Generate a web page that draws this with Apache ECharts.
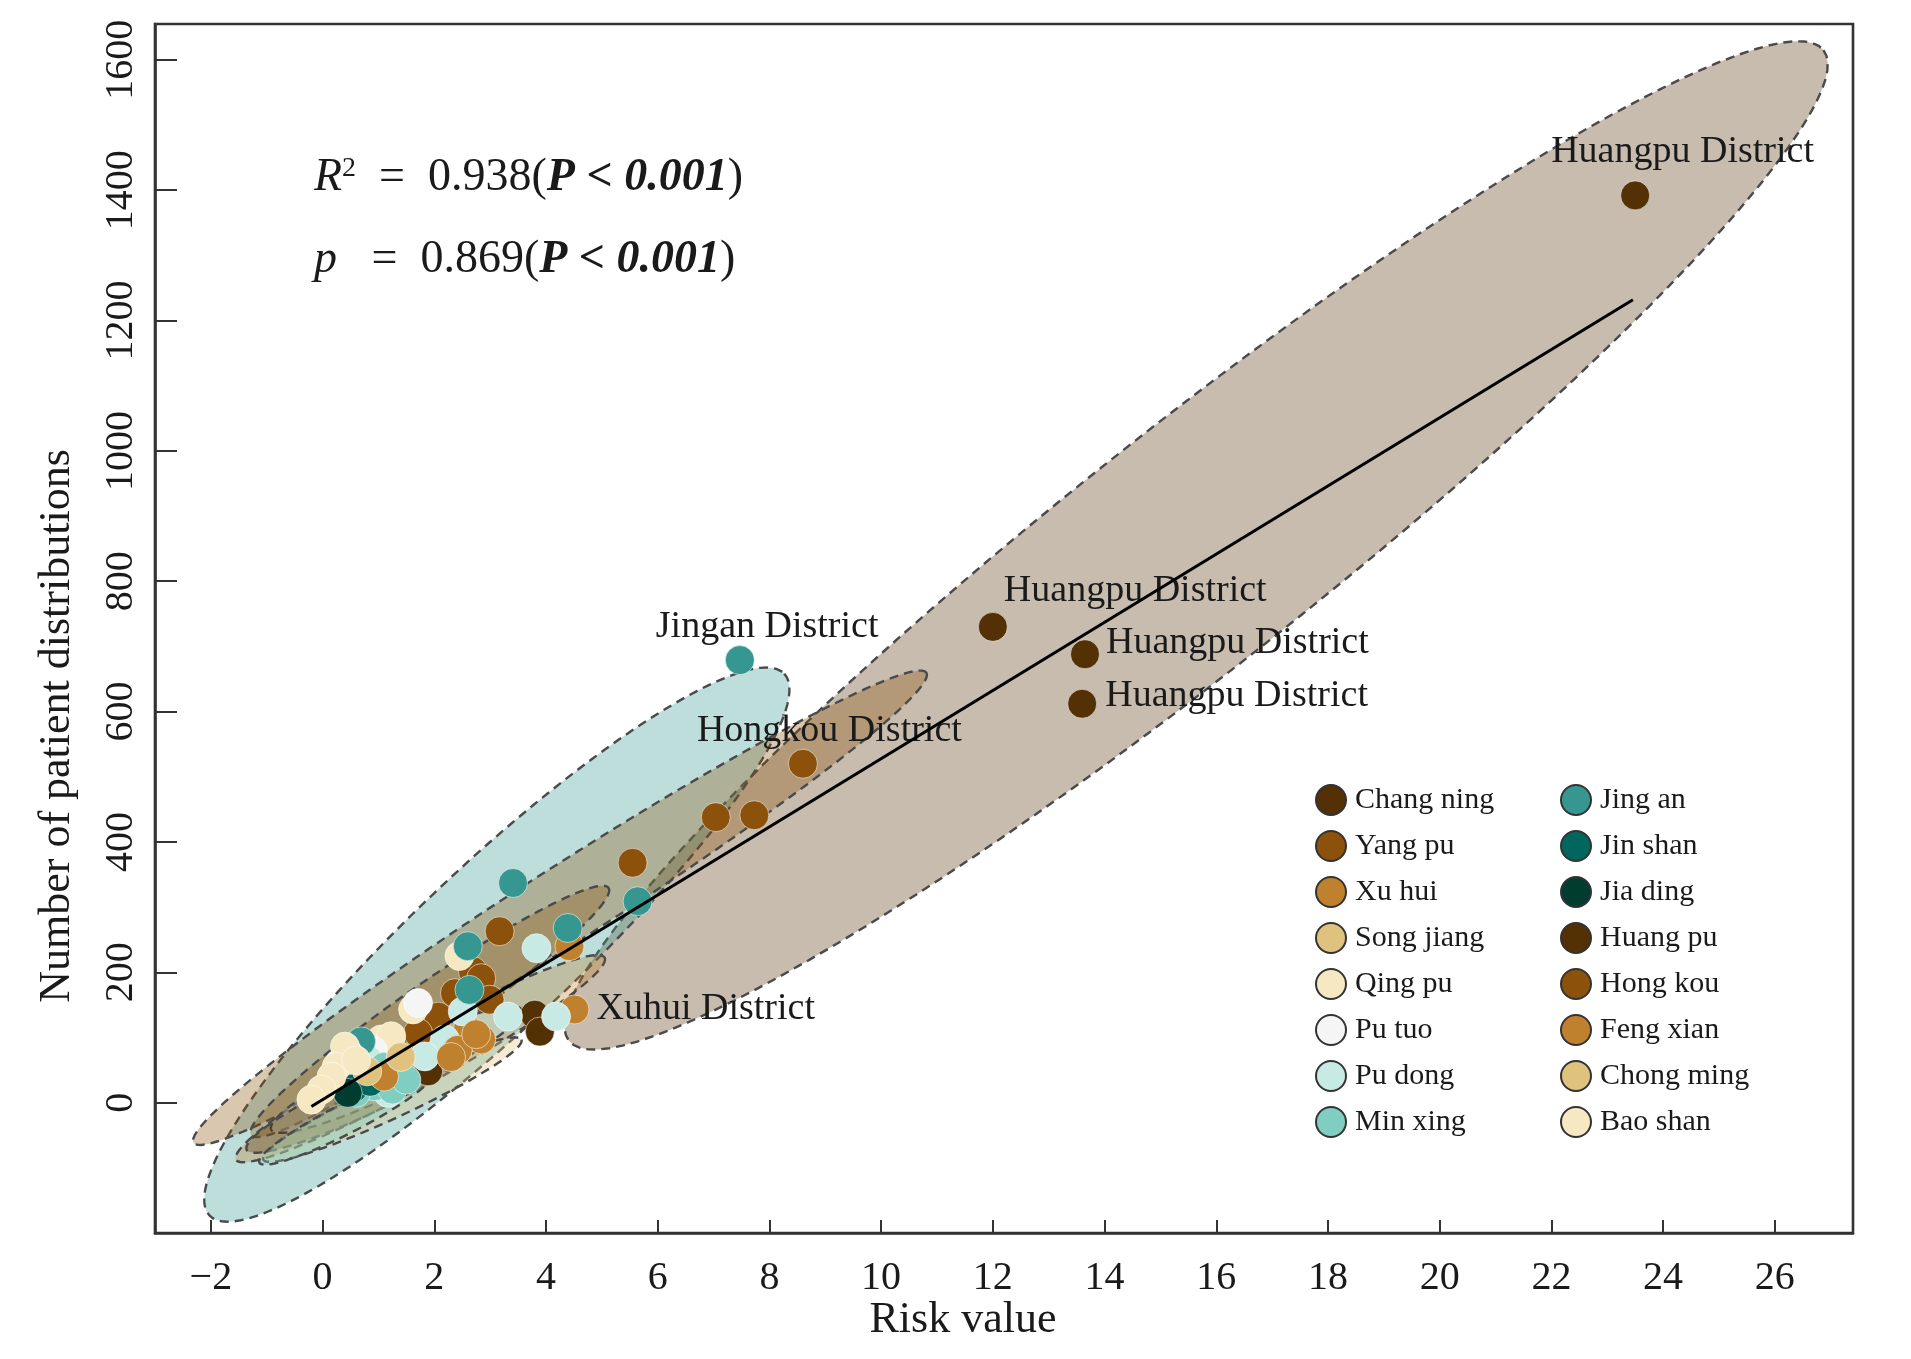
<!DOCTYPE html>
<html>
<head>
<meta charset="utf-8">
<script src="https://cdn.jsdelivr.net/npm/echarts@6/dist/echarts.min.js"></script>
<style>
  html, body { margin: 0; padding: 0; background: #fff; }
  #chart { width: 1911px; height: 1359px; }
</style>
</head>
<body>
<div id="chart"></div>
<script>
// districts, legend order (two columns of eight)
const districts = [
  'Chang ning', 'Yang pu', 'Xu hui', 'Song jiang', 'Qing pu', 'Pu tuo', 'Pu dong', 'Min xing',
  'Jing an', 'Jin shan', 'Jia ding', 'Huang pu', 'Hong kou', 'Feng xian', 'Chong ming', 'Bao shan',
];
const districtColors = [
  '#543005', '#8c510a', '#bf812d', '#dfc27d', '#f6e8c3', '#f5f5f5', '#c7eae5', '#80cdc1',
  '#35978f', '#01665e', '#003c30', '#543005', '#8c510a', '#bf812d', '#dfc27d', '#f6e8c3',
];

// [risk value, number of patient distributions] per district
const changNing = [[3.8, 135], [3.89, 109], [1.89, 48], [1.4, 30]];
const yangPu = [[3.17, 263], [2.69, 202], [2.84, 191], [2.37, 168], [2.99, 158], [2.07, 132], [1.71, 107], [0.63, 89]];
const xuHui = [[4.51, 143], [4.42, 240], [2.6, 112], [2.84, 97]];
const songJiang = [[1.05, 66], [0.5, 50]];
const qingPu = [[2.45, 225], [1.62, 143], [1.05, 97], [1.23, 102]];
const puTuo = [[1.71, 153], [0.3, 60], [0.9, 80]];
const puDong = [[3.83, 237], [2.51, 140], [3.32, 132], [4.18, 132], [2.19, 97], [1.83, 71], [0.63, 45], [1.17, 15], [0.81, 66], [1.3, 30], [1.0, 50]];
const minXing = [[0.34, 55], [0.93, 25], [1.35, 45], [0.7, 35], [1.1, 55], [0.6, 15], [1.25, 20], [1.5, 35]];
const jingAn = [[7.47, 679], [3.41, 337], [5.64, 309], [4.39, 268], [2.6, 240], [2.63, 173], [0.69, 94]];
const jinShan = [[0.55, 22], [0.85, 32]];
const jiaDing = [[0.45, 15]];
const huangPu = [[12.0, 730], [13.65, 688], [13.6, 612], [23.5, 1392]];
const hongKou = [[8.6, 520], [7.04, 438], [7.73, 441], [5.55, 368]];
const fengXian = [[2.42, 81], [2.75, 105], [2.3, 70], [1.1, 40]];
const chongMing = [[0.8, 48], [1.4, 70]];
const baoShan = [[0.46, 76], [0.4, 86], [0.25, 55], [0.6, 65], [0.16, 40], [-0.02, 20], [-0.2, 4.5]];

const districtPoints = [
  changNing, yangPu, xuHui, songJiang, qingPu, puTuo, puDong, minXing,
  jingAn, jinShan, jiaDing, huangPu, hongKou, fengXian, chongMing, baoShan,
];

// labelled points: [district index, point index, text]
const pointLabels = [
  [11, 3, 'Huangpu District'],
  [11, 0, 'Huangpu District'],
  [11, 1, 'Huangpu District'],
  [11, 2, 'Huangpu District'],
  [8, 0, 'Jingan District'],
  [12, 0, 'Hongkou District'],
  [2, 0, 'Xuhui District'],
];
const labelOffsets = [[-84, -43], [11, -36], [21, -11], [23, -8], [-84, -33], [-106, -33], [22, 0]];

// confidence ellipses: centre and two conjugate semi-axes, in data units
const ellipseDistrict = ['Huang pu', 'Jing an', 'Hong kou', 'Yang pu', 'Xu hui', 'Pu dong', 'Chang ning', 'Song jiang', 'Min xing'];
const ellipseCentre = [[15.64, 855], [3.12, 242.5], [4.25, 299], [1.92, 140], [1.75, 67.5], [1.32, 50.7], [0.65, 8.4], [1.25, 4.6], [0.41, -24.6]];
const ellipseMajor = [[11.23, 760], [5.145, 415.6], [6.56, 360.7], [3.2, 189.6], [3.3, 155], [2.24, 92.1], [2.01, 80.6], [2.31, 92.1], [1.54, 67.5]];
const ellipseMinor = [[1.33, -144.5], [0.99, -89.7], [0.37, -49.1], [0.28, -35.3], [0.22, -35], [0.17, -30.4], [0.15, -27.8], [0.14, -25], [0.12, -20.5]];

// regression line end points
const fitLine = [[-0.2, -6], [23.46, 1232]];

const xTicks = [-2, 0, 2, 4, 6, 8, 10, 12, 14, 16, 18, 20, 22, 24, 26];
const yTicks = [0, 200, 400, 600, 800, 1000, 1200, 1400, 1600];

const FONT = '"Liberation Serif", "Times New Roman", serif';
const INK = '#1a1a1a';
const FRAME = '#333';

const hexAlpha = (hex, a) => {
  const n = parseInt(hex.slice(1), 16);
  return `rgba(${(n >> 16) & 255},${(n >> 8) & 255},${n & 255},${a})`;
};

const chart = echarts.init(document.getElementById('chart'), null, { renderer: 'canvas' });

const ellipseSeries = {
  type: 'custom',
  silent: true,
  z: 1,
  data: ellipseCentre.map((c, i) => [c[0], c[1], ellipseMajor[i][0], ellipseMajor[i][1], ellipseMinor[i][0], ellipseMinor[i][1]]),
  renderItem: (params, api) => {
    const cx = api.value(0), cy = api.value(1);
    const ux = api.value(2), uy = api.value(3);
    const vx = api.value(4), vy = api.value(5);
    const pts = [];
    for (let k = 0; k < 120; k++) {
      const t = (k / 120) * Math.PI * 2;
      pts.push(api.coord([
        cx + ux * Math.cos(t) + vx * Math.sin(t),
        cy + uy * Math.cos(t) + vy * Math.sin(t),
      ]));
    }
    const color = districtColors[districts.indexOf(ellipseDistrict[params.dataIndex])];
    return {
      type: 'polygon',
      shape: { points: pts },
      style: {
        fill: hexAlpha(color, 0.32),
        stroke: '#4a4a4a',
        lineWidth: 2.4,
        lineDash: [9, 6],
      },
    };
  },
};

const scatterSeries = districts.map((name, d) => ({
  type: 'scatter',
  name,
  z: 3,
  symbolSize: 29,
  itemStyle: {
    color: districtColors[d],
    borderColor: 'rgba(255,255,255,0.55)',
    borderWidth: 1,
    opacity: 1,
  },
  emphasis: { disabled: true },
  data: districtPoints[d].map((p, i) => {
    const li = pointLabels.findIndex((l) => l[0] === d && l[1] === i);
    if (li < 0) return p;
    return {
      value: p,
      label: {
        show: true,
        position: 'inside',
        align: 'left',
        verticalAlign: 'middle',
        offset: labelOffsets[li],
        formatter: pointLabels[li][2],
        color: INK,
        fontFamily: FONT,
        fontSize: 38,
      },
    };
  }),
}));

const fitSeries = {
  type: 'line',
  z: 4,
  data: fitLine,
  symbol: 'none',
  silent: true,
  lineStyle: { color: '#000', width: 3 },
};

const legendBase = {
  orient: 'vertical',
  icon: 'circle',
  itemWidth: 30,
  itemHeight: 30,
  itemGap: 14,
  top: 779,
  textStyle: { fontFamily: FONT, fontSize: 30, color: INK, padding: [0, 0, 0, 4] },
  itemStyle: { borderColor: '#333', borderWidth: 2 },
  selectedMode: false,
};

chart.setOption({
  backgroundColor: '#fff',
  animation: false,
  grid: {
    left: 155,
    right: 58,
    top: 24,
    bottom: 126,
    show: true,
    borderColor: FRAME,
    borderWidth: 2.6,
  },
  legend: [
    { ...legendBase, left: 1310, data: districts.slice(0, 8) },
    { ...legendBase, left: 1555, data: districts.slice(8) },
  ],
  xAxis: {
    type: 'value',
    min: -3,
    max: 27.4,
    splitLine: { show: false },
    axisLine: { show: true, onZero: false, lineStyle: { color: FRAME, width: 2.6 } },
    axisTick: { show: true, inside: true, length: 13, customValues: xTicks, lineStyle: { color: FRAME, width: 2 } },
    axisLabel: {
      customValues: xTicks,
      margin: 25,
      color: INK,
      fontFamily: FONT,
      fontSize: 40,
      formatter: (v) => String(v).replace('-', '\u2212'),
    },
  },
  yAxis: {
    type: 'value',
    min: -200,
    max: 1655,
    splitLine: { show: false },
    axisLine: { show: true, onZero: false, lineStyle: { color: FRAME, width: 2.6 } },
    axisTick: { show: true, inside: true, length: 22, customValues: yTicks, lineStyle: { color: FRAME, width: 2 } },
    axisLabel: {
      customValues: yTicks,
      rotate: 90,
      margin: 14,
      color: INK,
      fontFamily: FONT,
      fontSize: 40,
      formatter: (v) => String(v),
    },
  },
  graphic: [
    {
      type: 'text',
      left: 314,
      top: 155,
      style: {
        text: '{i|R}{sup|2}{n|  =  0.938(}{b|P < 0.001}{n|)}',
        fill: INK,
        font: `46px ${FONT}`,
        rich: {
          i: { fontFamily: FONT, fontSize: 46, fontStyle: 'italic', fill: INK },
          sup: { fontFamily: FONT, fontSize: 28, verticalAlign: 'top', fill: INK },
          n: { fontFamily: FONT, fontSize: 46, fill: INK },
          b: { fontFamily: FONT, fontSize: 46, fontStyle: 'italic', fontWeight: 'bold', fill: INK },
        },
      },
    },
    {
      type: 'text',
      left: 314,
      top: 237,
      style: {
        text: '{i|p}{n|   =  0.869(}{b|P < 0.001}{n|)}',
        fill: INK,
        font: `46px ${FONT}`,
        rich: {
          i: { fontFamily: FONT, fontSize: 46, fontStyle: 'italic', fill: INK },
          n: { fontFamily: FONT, fontSize: 46, fill: INK },
          b: { fontFamily: FONT, fontSize: 46, fontStyle: 'italic', fontWeight: 'bold', fill: INK },
        },
      },
    },
    {
      type: 'text',
      x: 963,
      y: 1320,
      style: {
        text: 'Risk value',
        fill: INK,
        font: `44px ${FONT}`,
        align: 'center',
        verticalAlign: 'middle',
      },
    },
    {
      type: 'text',
      x: 57,
      y: 726,
      rotation: Math.PI / 2,
      style: {
        text: 'Number of patient distributions',
        fill: INK,
        font: `44px ${FONT}`,
        align: 'center',
        verticalAlign: 'middle',
      },
    },
  ],
  series: [ellipseSeries, ...scatterSeries, fitSeries],
});
</script>
</body>
</html>
